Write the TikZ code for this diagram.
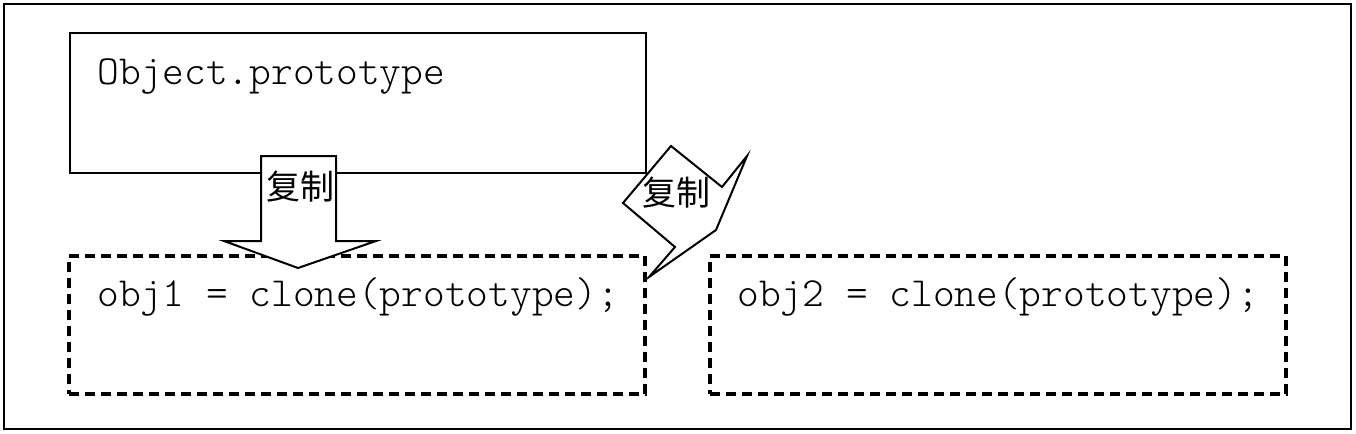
\documentclass[tikz,border=0pt]{standalone}
\usepackage{fontspec}
\setmonofont{Latin Modern Mono Light}
\newfontfamily\cjk{Noto Sans CJK SC}
\tikzset{
  frame/.style={draw=black, line width=1pt},
  solidbox/.style={draw=black, line width=1pt, fill=white, minimum width=288pt, minimum height=70pt, anchor=north west, inner sep=0pt},
  dashbox/.style={draw=black, line width=2.1pt, dash pattern=on 5pt off 3pt, minimum width=288pt, minimum height=69pt, anchor=north west, inner sep=0pt},
  code/.style={font=\ttfamily\fontsize{20.7}{22}\selectfont, anchor=base west, inner sep=0pt},
  cn/.style={font=\cjk\fontsize{17}{19}\selectfont, inner sep=0pt},
  blockshape/.style={draw=black, line width=1pt, fill=white, line join=miter}
}
\begin{document}
\begin{tikzpicture}[x=0.5pt,y=-0.5pt]
\useasboundingbox (0,0) rectangle (1356,434);
\draw[frame] (4,4) rectangle (1351,429);
% boxes
\node[solidbox] (proto) at (69,32) {};
\node[code] (protolabel) at (97,84) {Object.prototype};
\node[dashbox] (objA) at (67,254) {};
\node[dashbox] (objB) at (708,254) {};
\node[code] (objAlabel) at (97,306) {obj1 = clone(prototype);};
\node[code] (objBlabel) at (737,306) {obj2 = clone(prototype);};
% down arrow
\draw[blockshape] (261,156) -- (336,156) -- (336,241) -- (376,241) -- (298,268) -- (224,241) -- (261,241) -- cycle;
\node[cn] (copyA) at (300,187) {复制};
% callout
\draw[blockshape] (671,146) -- (722,187) -- (747,156) -- (716,230) -- (649,277) -- (675,247) -- (623,203) -- cycle;
\node[cn] (copyB) at (676,193) {复制};
\end{tikzpicture}
\end{document}
